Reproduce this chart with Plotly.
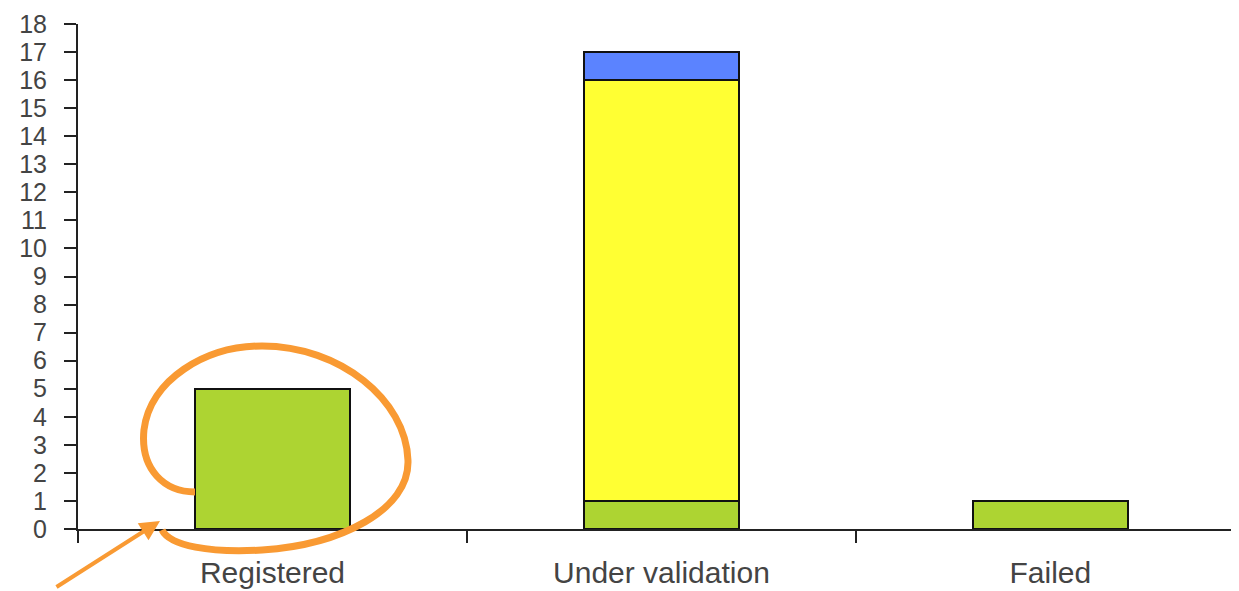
import plotly.graph_objects as go

categories = ["Registered", "Under validation", "Failed"]
green_vals = [5, 1, 1]
yellow_vals = [0, 15, 0]
blue_vals = [0, 1, 0]
y_ticks = list(range(0, 19))

OFF = 8  # browser body margin
W, H = 1239 - OFF, 591 - OFF
L, R, T, B = 78 - OFF, 0, 24 - OFF, 62
pw, ph = W - L - R, H - T - B

def px(xp, yp):
    # screen pixel -> paper coords
    xp -= OFF
    yp -= OFF
    return ((xp - L) / pw, (H - B - yp) / ph)

fig = go.Figure()
line = dict(color="#111111", width=2)
fig.add_trace(go.Bar(x=categories, y=green_vals, marker=dict(color="#ADD432", line=line), width=0.4, name="A"))
fig.add_trace(go.Bar(x=categories, y=yellow_vals, marker=dict(color="#FFFF33", line=line), width=0.4, name="B"))
fig.add_trace(go.Bar(x=categories, y=blue_vals, marker=dict(color="#5B83FF", line=line), width=0.4, name="C"))

pts = [
    ("M", [(195, 492)]),
    ("C", [(165, 492), (140, 470), (144, 430)]),
    ("C", [(150, 380), (205, 346), (262, 346)]),
    ("C", [(340, 346), (406, 400), (408, 460)]),
    ("C", [(410, 510), (340, 545), (262, 550)]),
    ("C", [(210, 553), (170, 546), (162, 530)]),
]
path = ""
for cmd, ps in pts:
    path += cmd + " " + " ".join("%.4f,%.4f" % px(a, b) for a, b in ps) + " "

fig.add_shape(type="path", xref="paper", yref="paper", path=path,
              line=dict(color="#F99A33", width=7), layer="above")

tip = px(160, 521)
fig.add_annotation(xref="paper", yref="paper", x=tip[0], y=tip[1],
                   ax=-105, ay=67, showarrow=True, arrowhead=2, arrowsize=1,
                   arrowwidth=4, arrowcolor="#F99A33", text="")

xfont = dict(family="Liberation Sans, Arial, sans-serif", size=30, color="#444444")
yfont = dict(family="Liberation Sans, Arial, sans-serif", size=25, color="#444444")
fig.update_layout(
    width=W, height=H, barmode="stack", showlegend=False,
    margin=dict(l=L, r=R, t=T, b=B, autoexpand=False),
    plot_bgcolor="white", paper_bgcolor="white",
    font=xfont,
    xaxis=dict(type="category", range=[-0.5, 2.485], showline=True, linecolor="#222222",
               linewidth=2, ticks="outside", tickson="boundaries", ticklen=12,
               tickwidth=2, tickcolor="#222222", showgrid=False, ticklabelstandoff=16,
               tickfont=xfont),
    yaxis=dict(range=[0, 18], tickvals=y_ticks, showline=True, linecolor="#222222",
               linewidth=2, ticks="outside", ticklen=12, tickwidth=2, tickcolor="#222222",
               showgrid=False, zeroline=False, ticklabelstandoff=12, tickfont=yfont,
               ticklabeloverflow="allow"),
)
fig.write_html("out.html")
